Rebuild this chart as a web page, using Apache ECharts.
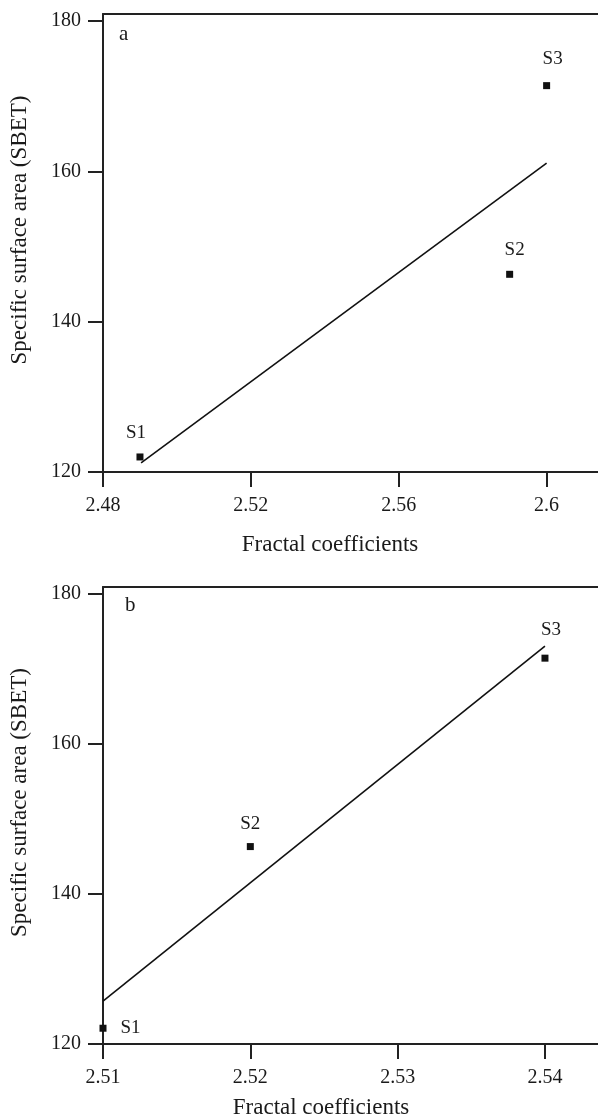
<!DOCTYPE html>
<html>
<head>
<meta charset="utf-8">
<script src="https://cdn.jsdelivr.net/npm/echarts@6/dist/echarts.min.js"></script>
<style>
html,body{margin:0;padding:0;background:#fff;}
#chart{width:598px;height:1120px;}
</style>
</head>
<body>
<div id="chart"></div>
<script>
// ---- data ----
var sampleNames = ['S1', 'S2', 'S3'];
var sbetValuesA = [122.0, 146.3, 171.4];
var fractalA = [2.49, 2.59, 2.60];
var fitA_x = [2.4903, 2.60];
var fitA_y = [121.2, 161.1];

var sbetValuesB = [122.1, 146.3, 171.4];
var fractalB = [2.51, 2.52, 2.54];
var fitB_x = [2.51, 2.54];
var fitB_y = [125.7, 173.0];

var xTicksA = [2.48, 2.52, 2.56, 2.6];
var xTicksB = [2.51, 2.52, 2.53, 2.54];
var yTicks = [120, 140, 160, 180];

var panelLetters = ['a', 'b'];
var xTitle = 'Fractal coefficients';
var yTitle = 'Specific surface area (SBET)';

// ---- styles ----
var FONT = '"Liberation Serif", "DejaVu Serif", serif';
var AX = '#222';
var TXT = '#1a1a1a';

function pts(xs, ys) { return xs.map(function (x, i) { return [x, ys[i]]; }); }

var labelStylesA = [
  { position: 'top', distance: 11, offset: [-4, 0] },
  { position: 'top', distance: 11, offset: [5, 0] },
  { position: 'top', distance: 11, offset: [6, -3] }
];
var labelStylesB = [
  { position: 'right', distance: 14, offset: [0, 0] },
  { position: 'top', distance: 10, offset: [0, 0] },
  { position: 'top', distance: 11, offset: [6, -4] }
];

function scatterData(xs, ys, styles) {
  return xs.map(function (x, i) {
    var s = styles[i];
    return {
      value: [x, ys[i]],
      name: sampleNames[i],
      label: { show: true, formatter: sampleNames[i], position: s.position, distance: s.distance, offset: s.offset,
        color: TXT, opacity: 1, fontSize: 19, fontFamily: FONT }
    };
  });
}

function bottomX(gridIndex, min, max, ticks, nameGap, namePad) {
  return {
    type: 'value', gridIndex: gridIndex, position: 'bottom', min: min, max: max,
    axisLine: { show: true, onZero: false, lineStyle: { color: AX, width: 2 } },
    axisTick: { show: true, inside: false, length: 15, customValues: ticks, lineStyle: { color: AX, width: 2 } },
    axisLabel: { customValues: ticks, margin: 24, color: TXT, fontSize: 20, fontFamily: FONT,
      formatter: function (v) { return String(+v.toFixed(4)); } },
    splitLine: { show: false },
    name: xTitle, nameLocation: 'middle', nameGap: nameGap,
    nameTextStyle: { color: TXT, fontSize: 23, fontFamily: FONT, padding: namePad }
  };
}
function topX(gridIndex, min, max) {
  return {
    type: 'value', gridIndex: gridIndex, position: 'top', min: min, max: max,
    axisLine: { show: true, onZero: false, lineStyle: { color: AX, width: 2 } },
    axisTick: { show: false }, axisLabel: { show: false }, splitLine: { show: false }
  };
}
function leftY(gridIndex, max) {
  return {
    type: 'value', gridIndex: gridIndex, min: 120, max: max,
    axisLine: { show: true, onZero: false, lineStyle: { color: AX, width: 2 } },
    axisTick: { show: true, inside: false, length: 15, customValues: yTicks, lineStyle: { color: AX, width: 2 } },
    axisLabel: { customValues: yTicks, margin: 22, color: TXT, fontSize: 20, fontFamily: FONT },
    splitLine: { show: false },
    name: yTitle, nameLocation: 'middle', nameGap: 72, nameRotate: 90,
    nameTextStyle: { color: TXT, fontSize: 23, fontFamily: FONT, padding: [0, 0, 0, 26] }
  };
}

var chart = echarts.init(document.getElementById('chart'), null, { renderer: 'canvas' });
chart.setOption({
  backgroundColor: '#fff',
  animation: false,
  textStyle: { fontFamily: FONT },
  grid: [
    { left: 101, right: -10, top: 14, height: 458 },
    { left: 101, right: -10, top: 587, height: 457 }
  ],
  xAxis: [
    bottomX(0, 2.48, 2.6139, xTicksA, 61, [0, 41, 0, 0]),
    topX(0, 2.48, 2.6139),
    bottomX(1, 2.51, 2.5436, xTicksB, 52, [0, 59, 0, 0]),
    topX(1, 2.51, 2.5436)
  ],
  yAxis: [leftY(0, 180.93), leftY(1, 180.88)],
  graphic: [
    { type: 'text', left: 119, top: 24, style: { text: panelLetters[0], font: '21px ' + FONT, fill: TXT } },
    { type: 'text', left: 125, top: 595, style: { text: panelLetters[1], font: '21px ' + FONT, fill: TXT } }
  ],
  series: [
    { type: 'line', xAxisIndex: 0, yAxisIndex: 0, data: pts(fitA_x, fitA_y), showSymbol: false, symbol: 'none',
      lineStyle: { color: '#111', width: 1.6 }, silent: true },
    { type: 'scatter', xAxisIndex: 0, yAxisIndex: 0, symbol: 'rect', symbolSize: 7,
      itemStyle: { color: '#111', opacity: 1 },
      label: { color: TXT, fontSize: 19, fontFamily: FONT },
      data: scatterData(fractalA, sbetValuesA, labelStylesA) },
    { type: 'line', xAxisIndex: 2, yAxisIndex: 1, data: pts(fitB_x, fitB_y), showSymbol: false, symbol: 'none',
      lineStyle: { color: '#111', width: 1.6 }, silent: true },
    { type: 'scatter', xAxisIndex: 2, yAxisIndex: 1, symbol: 'rect', symbolSize: 7,
      itemStyle: { color: '#111', opacity: 1 },
      label: { color: TXT, fontSize: 19, fontFamily: FONT },
      data: scatterData(fractalB, sbetValuesB, labelStylesB) }
  ]
});
</script>
</body>
</html>
